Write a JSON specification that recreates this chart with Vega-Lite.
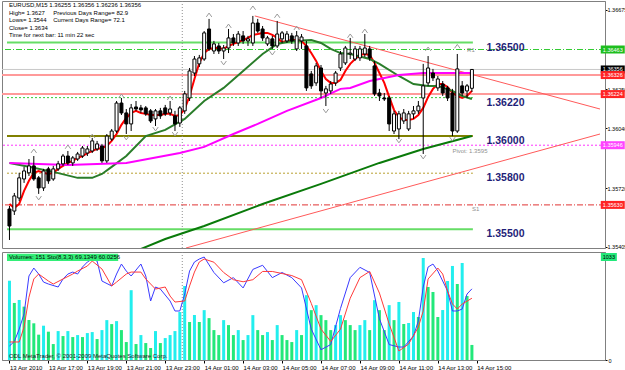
{
"$schema":"https://vega.github.io/schema/vega-lite/v6.json",
"background":"white",
"padding":0,
"spacing":0,
"config":{"view":{"stroke":"#808080","strokeWidth":1},"font":"Liberation Sans","axis":{"labelFont":"Liberation Sans","grid":false}},
"resolve":{"scale":{"x":"independent","y":"independent"}},
"datasets":{
"bars":[
{"t":"2010-04-13T15:00Z","o":1.35608,"h":1.35624,"l":1.35442,"c":1.35517,"v":795,"vd":"u"},
{"t":"2010-04-13T15:15Z","o":1.35597,"h":1.35694,"l":1.35576,"c":1.35678,"v":572,"vd":"d"},
{"t":"2010-04-13T15:30Z","o":1.35667,"h":1.35802,"l":1.35651,"c":1.35775,"v":602,"vd":"u"},
{"t":"2010-04-13T15:45Z","o":1.35769,"h":1.35834,"l":1.35748,"c":1.35812,"v":535,"vd":"d"},
{"t":"2010-04-13T16:00Z","o":1.35802,"h":1.35876,"l":1.35785,"c":1.35839,"v":401,"vd":"d"},
{"t":"2010-04-13T16:15Z","o":1.35839,"h":1.35892,"l":1.35759,"c":1.35769,"v":368,"vd":"d"},
{"t":"2010-04-13T16:30Z","o":1.35775,"h":1.35785,"l":1.35689,"c":1.35721,"v":254,"vd":"d"},
{"t":"2010-04-13T16:45Z","o":1.35721,"h":1.35823,"l":1.35705,"c":1.35812,"v":344,"vd":"u"},
{"t":"2010-04-13T17:00Z","o":1.35823,"h":1.35834,"l":1.35743,"c":1.35759,"v":284,"vd":"d"},
{"t":"2010-04-13T17:15Z","o":1.35769,"h":1.35839,"l":1.35759,"c":1.35823,"v":160,"vd":"d"},
{"t":"2010-04-13T17:30Z","o":1.35823,"h":1.35866,"l":1.35812,"c":1.3585,"v":290,"vd":"u"},
{"t":"2010-04-13T17:45Z","o":1.3585,"h":1.35903,"l":1.35839,"c":1.35892,"v":240,"vd":"d"},
{"t":"2010-04-13T18:00Z","o":1.35892,"h":1.35919,"l":1.35844,"c":1.35855,"v":290,"vd":"u"},
{"t":"2010-04-13T18:15Z","o":1.35855,"h":1.35892,"l":1.35839,"c":1.35882,"v":230,"vd":"d"},
{"t":"2010-04-13T18:30Z","o":1.35876,"h":1.35914,"l":1.35866,"c":1.35903,"v":250,"vd":"u"},
{"t":"2010-04-13T18:45Z","o":1.35892,"h":1.35946,"l":1.35882,"c":1.35935,"v":230,"vd":"d"},
{"t":"2010-04-13T19:00Z","o":1.35908,"h":1.35946,"l":1.35892,"c":1.3593,"v":270,"vd":"u"},
{"t":"2010-04-13T19:15Z","o":1.35919,"h":1.35989,"l":1.35908,"c":1.35973,"v":280,"vd":"u"},
{"t":"2010-04-13T19:30Z","o":1.3593,"h":1.35973,"l":1.35919,"c":1.35957,"v":210,"vd":"d"},
{"t":"2010-04-13T19:45Z","o":1.35946,"h":1.35957,"l":1.35855,"c":1.35866,"v":300,"vd":"u"},
{"t":"2010-04-13T20:00Z","o":1.35866,"h":1.3601,"l":1.35855,"c":1.35999,"v":400,"vd":"u"},
{"t":"2010-04-13T20:15Z","o":1.35983,"h":1.36037,"l":1.35973,"c":1.36026,"v":360,"vd":"d"},
{"t":"2010-04-13T20:30Z","o":1.36026,"h":1.36187,"l":1.36016,"c":1.36176,"v":390,"vd":"u"},
{"t":"2010-04-13T20:45Z","o":1.36176,"h":1.36203,"l":1.36112,"c":1.36123,"v":300,"vd":"d"},
{"t":"2010-04-13T21:00Z","o":1.36123,"h":1.36144,"l":1.3601,"c":1.36064,"v":180,"vd":"d"},
{"t":"2010-04-13T21:15Z","o":1.36064,"h":1.36171,"l":1.36026,"c":1.3615,"v":700,"vd":"u"},
{"t":"2010-04-13T21:30Z","o":1.36155,"h":1.36187,"l":1.36134,"c":1.36144,"v":160,"vd":"d"},
{"t":"2010-04-13T21:45Z","o":1.3615,"h":1.36166,"l":1.36123,"c":1.36139,"v":250,"vd":"u"},
{"t":"2010-04-13T22:00Z","o":1.3615,"h":1.3616,"l":1.36107,"c":1.36118,"v":170,"vd":"d"},
{"t":"2010-04-13T22:15Z","o":1.36134,"h":1.36144,"l":1.36069,"c":1.3608,"v":120,"vd":"d"},
{"t":"2010-04-13T22:30Z","o":1.36091,"h":1.36144,"l":1.36053,"c":1.36134,"v":290,"vd":"u"},
{"t":"2010-04-13T22:45Z","o":1.36134,"h":1.3615,"l":1.36091,"c":1.36107,"v":170,"vd":"d"},
{"t":"2010-04-13T23:00Z","o":1.3615,"h":1.36166,"l":1.36107,"c":1.36118,"v":220,"vd":"u"},
{"t":"2010-04-13T23:15Z","o":1.36123,"h":1.36187,"l":1.36107,"c":1.36144,"v":250,"vd":"u"},
{"t":"2010-04-13T23:30Z","o":1.36107,"h":1.36134,"l":1.36026,"c":1.36064,"v":290,"vd":"u"},
{"t":"2010-04-13T23:45Z","o":1.36069,"h":1.3616,"l":1.36048,"c":1.3615,"v":481,"vd":"u"},
{"t":"2010-04-14T00:00Z","o":1.36134,"h":1.36241,"l":1.36118,"c":1.36225,"v":742,"vd":"u"},
{"t":"2010-04-14T00:15Z","o":1.36203,"h":1.36364,"l":1.36187,"c":1.36348,"v":381,"vd":"d"},
{"t":"2010-04-14T00:30Z","o":1.36337,"h":1.36428,"l":1.36321,"c":1.36412,"v":451,"vd":"u"},
{"t":"2010-04-14T00:45Z","o":1.36386,"h":1.36434,"l":1.36369,"c":1.36418,"v":381,"vd":"d"},
{"t":"2010-04-14T01:00Z","o":1.36412,"h":1.36562,"l":1.36402,"c":1.36552,"v":500,"vd":"u"},
{"t":"2010-04-14T01:15Z","o":1.36573,"h":1.36627,"l":1.36455,"c":1.36466,"v":420,"vd":"d"},
{"t":"2010-04-14T01:30Z","o":1.36455,"h":1.36509,"l":1.36439,"c":1.36493,"v":300,"vd":"d"},
{"t":"2010-04-14T01:45Z","o":1.36482,"h":1.36498,"l":1.36439,"c":1.36455,"v":250,"vd":"d"},
{"t":"2010-04-14T02:00Z","o":1.36455,"h":1.36487,"l":1.36412,"c":1.36471,"v":400,"vd":"u"},
{"t":"2010-04-14T02:15Z","o":1.36471,"h":1.36573,"l":1.36444,"c":1.36525,"v":350,"vd":"d"},
{"t":"2010-04-14T02:30Z","o":1.36525,"h":1.36546,"l":1.36482,"c":1.36498,"v":250,"vd":"d"},
{"t":"2010-04-14T02:45Z","o":1.36498,"h":1.36562,"l":1.36482,"c":1.36546,"v":300,"vd":"u"},
{"t":"2010-04-14T03:00Z","o":1.36536,"h":1.36562,"l":1.36493,"c":1.36509,"v":200,"vd":"d"},
{"t":"2010-04-14T03:15Z","o":1.36509,"h":1.36536,"l":1.36482,"c":1.3652,"v":250,"vd":"u"},
{"t":"2010-04-14T03:30Z","o":1.36498,"h":1.36643,"l":1.36482,"c":1.36605,"v":450,"vd":"u"},
{"t":"2010-04-14T03:45Z","o":1.36605,"h":1.36627,"l":1.36552,"c":1.36562,"v":300,"vd":"d"},
{"t":"2010-04-14T04:00Z","o":1.36573,"h":1.36589,"l":1.36509,"c":1.36525,"v":250,"vd":"d"},
{"t":"2010-04-14T04:15Z","o":1.36493,"h":1.36536,"l":1.36482,"c":1.36525,"v":280,"vd":"u"},
{"t":"2010-04-14T04:30Z","o":1.3652,"h":1.36536,"l":1.36466,"c":1.36482,"v":200,"vd":"d"},
{"t":"2010-04-14T04:45Z","o":1.36482,"h":1.36616,"l":1.36471,"c":1.36546,"v":350,"vd":"u"},
{"t":"2010-04-14T05:00Z","o":1.3652,"h":1.36562,"l":1.36498,"c":1.36552,"v":250,"vd":"d"},
{"t":"2010-04-14T05:15Z","o":1.36509,"h":1.36562,"l":1.36498,"c":1.36546,"v":200,"vd":"d"},
{"t":"2010-04-14T05:30Z","o":1.36536,"h":1.36552,"l":1.36493,"c":1.36509,"v":180,"vd":"d"},
{"t":"2010-04-14T05:45Z","o":1.36466,"h":1.36562,"l":1.36455,"c":1.36536,"v":300,"vd":"u"},
{"t":"2010-04-14T06:00Z","o":1.36509,"h":1.36546,"l":1.36466,"c":1.3653,"v":250,"vd":"d"},
{"t":"2010-04-14T06:15Z","o":1.36482,"h":1.36509,"l":1.36241,"c":1.36257,"v":650,"vd":"u"},
{"t":"2010-04-14T06:30Z","o":1.36332,"h":1.36348,"l":1.36252,"c":1.36268,"v":500,"vd":"d"},
{"t":"2010-04-14T06:45Z","o":1.36284,"h":1.36391,"l":1.36268,"c":1.36375,"v":550,"vd":"u"},
{"t":"2010-04-14T07:00Z","o":1.36364,"h":1.3638,"l":1.36203,"c":1.36241,"v":450,"vd":"d"},
{"t":"2010-04-14T07:15Z","o":1.3623,"h":1.36268,"l":1.3616,"c":1.36252,"v":400,"vd":"d"},
{"t":"2010-04-14T07:30Z","o":1.36241,"h":1.36294,"l":1.36225,"c":1.36278,"v":300,"vd":"d"},
{"t":"2010-04-14T07:45Z","o":1.36284,"h":1.36348,"l":1.36268,"c":1.36337,"v":350,"vd":"u"},
{"t":"2010-04-14T08:00Z","o":1.36364,"h":1.36455,"l":1.36348,"c":1.36439,"v":450,"vd":"u"},
{"t":"2010-04-14T08:15Z","o":1.36391,"h":1.36482,"l":1.3638,"c":1.36471,"v":400,"vd":"d"},
{"t":"2010-04-14T08:30Z","o":1.36439,"h":1.36525,"l":1.36412,"c":1.36444,"v":350,"vd":"d"},
{"t":"2010-04-14T08:45Z","o":1.36412,"h":1.36482,"l":1.36402,"c":1.36466,"v":300,"vd":"d"},
{"t":"2010-04-14T09:00Z","o":1.36418,"h":1.36482,"l":1.36402,"c":1.36466,"v":350,"vd":"u"},
{"t":"2010-04-14T09:15Z","o":1.36439,"h":1.36546,"l":1.36423,"c":1.36471,"v":400,"vd":"u"},
{"t":"2010-04-14T09:30Z","o":1.36466,"h":1.36482,"l":1.36402,"c":1.36418,"v":300,"vd":"d"},
{"t":"2010-04-14T09:45Z","o":1.36375,"h":1.36402,"l":1.36214,"c":1.36225,"v":600,"vd":"u"},
{"t":"2010-04-14T10:00Z","o":1.3623,"h":1.36252,"l":1.36187,"c":1.36214,"v":500,"vd":"d"},
{"t":"2010-04-14T10:15Z","o":1.36203,"h":1.3623,"l":1.36187,"c":1.36198,"v":300,"vd":"d"},
{"t":"2010-04-14T10:30Z","o":1.36203,"h":1.36214,"l":1.36026,"c":1.36064,"v":550,"vd":"u"},
{"t":"2010-04-14T10:45Z","o":1.36026,"h":1.36134,"l":1.3601,"c":1.36118,"v":400,"vd":"d"},
{"t":"2010-04-14T11:00Z","o":1.36037,"h":1.36134,"l":1.35983,"c":1.36118,"v":582,"vd":"u"},
{"t":"2010-04-14T11:15Z","o":1.3608,"h":1.36144,"l":1.36064,"c":1.36123,"v":361,"vd":"d"},
{"t":"2010-04-14T11:30Z","o":1.36037,"h":1.36134,"l":1.36026,"c":1.36118,"v":371,"vd":"u"},
{"t":"2010-04-14T11:45Z","o":1.36118,"h":1.3616,"l":1.36091,"c":1.36134,"v":481,"vd":"u"},
{"t":"2010-04-14T12:00Z","o":1.36134,"h":1.36187,"l":1.36118,"c":1.3616,"v":431,"vd":"d"},
{"t":"2010-04-14T12:15Z","o":1.36203,"h":1.36386,"l":1.35903,"c":1.36268,"v":1023,"vd":"u"},
{"t":"2010-04-14T12:30Z","o":1.36284,"h":1.36428,"l":1.36268,"c":1.36364,"v":732,"vd":"d"},
{"t":"2010-04-14T12:45Z","o":1.36337,"h":1.36359,"l":1.36294,"c":1.36311,"v":682,"vd":"d"},
{"t":"2010-04-14T13:00Z","o":1.36257,"h":1.36321,"l":1.36241,"c":1.36305,"v":431,"vd":"d"},
{"t":"2010-04-14T13:15Z","o":1.36278,"h":1.36294,"l":1.36214,"c":1.3623,"v":501,"vd":"u"},
{"t":"2010-04-14T13:30Z","o":1.36257,"h":1.36268,"l":1.36187,"c":1.36203,"v":792,"vd":"u"},
{"t":"2010-04-14T13:45Z","o":1.3623,"h":1.36252,"l":1.35999,"c":1.36026,"v":943,"vd":"u"},
{"t":"2010-04-14T14:00Z","o":1.36026,"h":1.36439,"l":1.36016,"c":1.36359,"v":762,"vd":"d"},
{"t":"2010-04-14T14:15Z","o":1.36268,"h":1.36294,"l":1.36214,"c":1.3623,"v":973,"vd":"u"},
{"t":"2010-04-14T14:30Z","o":1.36241,"h":1.36278,"l":1.36203,"c":1.36268,"v":642,"vd":"d"},
{"t":"2010-04-14T14:45Z","o":1.36255,"h":1.36356,"l":1.36236,"c":1.36356,"v":151,"vd":"d"}
],
"ma":[
{"t":"2010-04-13T15:00Z","s":"fast","p":1.35635},{"t":"2010-04-13T15:15Z","s":"fast","p":1.35614},{"t":"2010-04-13T15:30Z","s":"fast","p":1.35635},{"t":"2010-04-13T15:45Z","s":"fast","p":1.35705},
{"t":"2010-04-13T16:00Z","s":"fast","p":1.35759},{"t":"2010-04-13T16:15Z","s":"fast","p":1.35802},{"t":"2010-04-13T16:30Z","s":"fast","p":1.35812},{"t":"2010-04-13T16:45Z","s":"fast","p":1.35802},
{"t":"2010-04-13T17:00Z","s":"fast","p":1.35796},{"t":"2010-04-13T17:15Z","s":"fast","p":1.35802},{"t":"2010-04-13T17:30Z","s":"fast","p":1.35823},{"t":"2010-04-13T17:45Z","s":"fast","p":1.35839},
{"t":"2010-04-13T18:00Z","s":"fast","p":1.35855},{"t":"2010-04-13T18:15Z","s":"fast","p":1.35866},{"t":"2010-04-13T18:30Z","s":"fast","p":1.35882},{"t":"2010-04-13T18:45Z","s":"fast","p":1.35892},
{"t":"2010-04-13T19:00Z","s":"fast","p":1.35908},{"t":"2010-04-13T19:15Z","s":"fast","p":1.35919},{"t":"2010-04-13T19:30Z","s":"fast","p":1.3593},{"t":"2010-04-13T19:45Z","s":"fast","p":1.35935},
{"t":"2010-04-13T20:00Z","s":"fast","p":1.35946},{"t":"2010-04-13T20:15Z","s":"fast","p":1.35973},{"t":"2010-04-13T20:30Z","s":"fast","p":1.3601},{"t":"2010-04-13T20:45Z","s":"fast","p":1.36059},
{"t":"2010-04-13T21:00Z","s":"fast","p":1.36096},{"t":"2010-04-13T21:15Z","s":"fast","p":1.36123},{"t":"2010-04-13T21:30Z","s":"fast","p":1.36134},{"t":"2010-04-13T21:45Z","s":"fast","p":1.36123},
{"t":"2010-04-13T22:00Z","s":"fast","p":1.36118},{"t":"2010-04-13T22:15Z","s":"fast","p":1.36112},{"t":"2010-04-13T22:30Z","s":"fast","p":1.36112},{"t":"2010-04-13T22:45Z","s":"fast","p":1.36112},
{"t":"2010-04-13T23:00Z","s":"fast","p":1.36118},{"t":"2010-04-13T23:15Z","s":"fast","p":1.36118},{"t":"2010-04-13T23:30Z","s":"fast","p":1.36107},{"t":"2010-04-13T23:45Z","s":"fast","p":1.36112},
{"t":"2010-04-14T00:00Z","s":"fast","p":1.36144},{"t":"2010-04-14T00:15Z","s":"fast","p":1.36214},{"t":"2010-04-14T00:30Z","s":"fast","p":1.36305},{"t":"2010-04-14T00:45Z","s":"fast","p":1.36391},
{"t":"2010-04-14T01:00Z","s":"fast","p":1.36444},{"t":"2010-04-14T01:15Z","s":"fast","p":1.36466},{"t":"2010-04-14T01:30Z","s":"fast","p":1.36471},{"t":"2010-04-14T01:45Z","s":"fast","p":1.36471},
{"t":"2010-04-14T02:00Z","s":"fast","p":1.36466},{"t":"2010-04-14T02:15Z","s":"fast","p":1.36482},{"t":"2010-04-14T02:30Z","s":"fast","p":1.36493},{"t":"2010-04-14T02:45Z","s":"fast","p":1.36503},
{"t":"2010-04-14T03:00Z","s":"fast","p":1.36514},{"t":"2010-04-14T03:15Z","s":"fast","p":1.36525},{"t":"2010-04-14T03:30Z","s":"fast","p":1.36541},{"t":"2010-04-14T03:45Z","s":"fast","p":1.36546},
{"t":"2010-04-14T04:00Z","s":"fast","p":1.36552},{"t":"2010-04-14T04:15Z","s":"fast","p":1.36552},{"t":"2010-04-14T04:30Z","s":"fast","p":1.36541},{"t":"2010-04-14T04:45Z","s":"fast","p":1.36525},
{"t":"2010-04-14T05:00Z","s":"fast","p":1.36503},{"t":"2010-04-14T05:15Z","s":"fast","p":1.36509},{"t":"2010-04-14T05:30Z","s":"fast","p":1.36514},{"t":"2010-04-14T05:45Z","s":"fast","p":1.36514},
{"t":"2010-04-14T06:00Z","s":"fast","p":1.36509},{"t":"2010-04-14T06:15Z","s":"fast","p":1.36482},{"t":"2010-04-14T06:30Z","s":"fast","p":1.36444},{"t":"2010-04-14T06:45Z","s":"fast","p":1.36402},
{"t":"2010-04-14T07:00Z","s":"fast","p":1.36348},{"t":"2010-04-14T07:15Z","s":"fast","p":1.36305},{"t":"2010-04-14T07:30Z","s":"fast","p":1.36284},{"t":"2010-04-14T07:45Z","s":"fast","p":1.36284},
{"t":"2010-04-14T08:00Z","s":"fast","p":1.363},{"t":"2010-04-14T08:15Z","s":"fast","p":1.36348},{"t":"2010-04-14T08:30Z","s":"fast","p":1.36386},{"t":"2010-04-14T08:45Z","s":"fast","p":1.36412},
{"t":"2010-04-14T09:00Z","s":"fast","p":1.36434},{"t":"2010-04-14T09:15Z","s":"fast","p":1.36439},{"t":"2010-04-14T09:30Z","s":"fast","p":1.36434},{"t":"2010-04-14T09:45Z","s":"fast","p":1.36391},
{"t":"2010-04-14T10:00Z","s":"fast","p":1.36337},{"t":"2010-04-14T10:15Z","s":"fast","p":1.36284},{"t":"2010-04-14T10:30Z","s":"fast","p":1.36209},{"t":"2010-04-14T10:45Z","s":"fast","p":1.36139},
{"t":"2010-04-14T11:00Z","s":"fast","p":1.36101},{"t":"2010-04-14T11:15Z","s":"fast","p":1.36085},{"t":"2010-04-14T11:30Z","s":"fast","p":1.36085},{"t":"2010-04-14T11:45Z","s":"fast","p":1.36091},
{"t":"2010-04-14T12:00Z","s":"fast","p":1.36112},{"t":"2010-04-14T12:15Z","s":"fast","p":1.3615},{"t":"2010-04-14T12:30Z","s":"fast","p":1.36209},{"t":"2010-04-14T12:45Z","s":"fast","p":1.36252},
{"t":"2010-04-14T13:00Z","s":"fast","p":1.36278},{"t":"2010-04-14T13:15Z","s":"fast","p":1.36278},{"t":"2010-04-14T13:30Z","s":"fast","p":1.36262},{"t":"2010-04-14T13:45Z","s":"fast","p":1.3623},
{"t":"2010-04-14T14:00Z","s":"fast","p":1.36214},{"t":"2010-04-14T14:15Z","s":"fast","p":1.36203},{"t":"2010-04-14T14:30Z","s":"fast","p":1.36214},{"t":"2010-04-14T14:45Z","s":"fast","p":1.36241},
{"t":"2010-04-13T15:00Z","s":"mid","p":1.35855},{"t":"2010-04-13T16:00Z","s":"mid","p":1.35834},{"t":"2010-04-13T17:15Z","s":"mid","p":1.35807},{"t":"2010-04-13T18:30Z","s":"mid","p":1.35775},
{"t":"2010-04-13T19:15Z","s":"mid","p":1.35775},{"t":"2010-04-13T19:45Z","s":"mid","p":1.35796},{"t":"2010-04-13T20:15Z","s":"mid","p":1.35834},{"t":"2010-04-13T21:00Z","s":"mid","p":1.35892},
{"t":"2010-04-13T22:00Z","s":"mid","p":1.35999},{"t":"2010-04-13T23:00Z","s":"mid","p":1.36032},{"t":"2010-04-14T00:00Z","s":"mid","p":1.36091},{"t":"2010-04-14T01:00Z","s":"mid","p":1.36187},
{"t":"2010-04-14T02:00Z","s":"mid","p":1.36257},{"t":"2010-04-14T03:00Z","s":"mid","p":1.36348},{"t":"2010-04-14T04:00Z","s":"mid","p":1.36439},{"t":"2010-04-14T04:45Z","s":"mid","p":1.36493},
{"t":"2010-04-14T05:30Z","s":"mid","p":1.36509},{"t":"2010-04-14T06:30Z","s":"mid","p":1.36514},{"t":"2010-04-14T07:00Z","s":"mid","p":1.36498},{"t":"2010-04-14T07:30Z","s":"mid","p":1.36466},
{"t":"2010-04-14T08:00Z","s":"mid","p":1.36444},{"t":"2010-04-14T08:30Z","s":"mid","p":1.36439},{"t":"2010-04-14T09:30Z","s":"mid","p":1.36412},{"t":"2010-04-14T10:00Z","s":"mid","p":1.36386},
{"t":"2010-04-14T11:00Z","s":"mid","p":1.36321},{"t":"2010-04-14T11:45Z","s":"mid","p":1.36278},{"t":"2010-04-14T12:30Z","s":"mid","p":1.36268},{"t":"2010-04-14T13:00Z","s":"mid","p":1.36268},
{"t":"2010-04-14T13:45Z","s":"mid","p":1.36241},{"t":"2010-04-14T14:15Z","s":"mid","p":1.36214},{"t":"2010-04-14T14:45Z","s":"mid","p":1.36198},
{"t":"2010-04-13T15:00Z","s":"slow","p":1.35855},{"t":"2010-04-13T18:00Z","s":"slow","p":1.35844},{"t":"2010-04-13T21:00Z","s":"slow","p":1.35855},{"t":"2010-04-13T23:45Z","s":"slow","p":1.35908},
{"t":"2010-04-14T01:00Z","s":"slow","p":1.35941},{"t":"2010-04-14T02:30Z","s":"slow","p":1.3601},{"t":"2010-04-14T03:45Z","s":"slow","p":1.36064},{"t":"2010-04-14T05:15Z","s":"slow","p":1.36134},
{"t":"2010-04-14T07:00Z","s":"slow","p":1.36203},{"t":"2010-04-14T08:00Z","s":"slow","p":1.36252},{"t":"2010-04-14T08:30Z","s":"slow","p":1.36257},{"t":"2010-04-14T09:30Z","s":"slow","p":1.36294},
{"t":"2010-04-14T11:00Z","s":"slow","p":1.36326},{"t":"2010-04-14T12:15Z","s":"slow","p":1.36337},{"t":"2010-04-14T14:45Z","s":"slow","p":1.36337},
{"t":"2010-04-13T21:30Z","s":"long","p":1.35383},{"t":"2010-04-13T23:00Z","s":"long","p":1.35447},{"t":"2010-04-14T01:00Z","s":"long","p":1.35517},{"t":"2010-04-14T04:00Z","s":"long","p":1.35635},
{"t":"2010-04-14T07:00Z","s":"long","p":1.35743},{"t":"2010-04-14T10:00Z","s":"long","p":1.35855},{"t":"2010-04-14T12:15Z","s":"long","p":1.3593},{"t":"2010-04-14T14:45Z","s":"long","p":1.35999}
],
"sto":[
{"t":"2010-04-13T15:00Z","s":"main","v":13.6},{"t":"2010-04-13T15:15Z","s":"main","v":18},{"t":"2010-04-13T15:30Z","s":"main","v":30},{"t":"2010-04-13T15:45Z","s":"main","v":44.7},
{"t":"2010-04-13T16:00Z","s":"main","v":81.6},{"t":"2010-04-13T16:15Z","s":"main","v":89.3},{"t":"2010-04-13T16:30Z","s":"main","v":83.5},{"t":"2010-04-13T16:45Z","s":"main","v":75.7},
{"t":"2010-04-13T17:00Z","s":"main","v":73.8},{"t":"2010-04-13T17:30Z","s":"main","v":70.9},{"t":"2010-04-13T17:45Z","s":"main","v":78.7},{"t":"2010-04-13T18:00Z","s":"main","v":83.5},
{"t":"2010-04-13T18:15Z","s":"main","v":85.4},{"t":"2010-04-13T18:30Z","s":"main","v":83.5},{"t":"2010-04-13T18:45Z","s":"main","v":90.3},{"t":"2010-04-13T19:00Z","s":"main","v":95.2},
{"t":"2010-04-13T19:15Z","s":"main","v":98.1},{"t":"2010-04-13T19:30Z","s":"main","v":96.1},{"t":"2010-04-13T19:45Z","s":"main","v":76.7},{"t":"2010-04-13T20:15Z","s":"main","v":71.9},
{"t":"2010-04-13T20:30Z","s":"main","v":83.5},{"t":"2010-04-13T20:45Z","s":"main","v":93.2},{"t":"2010-04-13T21:00Z","s":"main","v":86.4},{"t":"2010-04-13T21:15Z","s":"main","v":81.6},
{"t":"2010-04-13T21:45Z","s":"main","v":93.2},{"t":"2010-04-13T22:00Z","s":"main","v":81.6},{"t":"2010-04-13T22:15Z","s":"main","v":57.3},{"t":"2010-04-13T22:30Z","s":"main","v":70.9},
{"t":"2010-04-13T22:45Z","s":"main","v":68.9},{"t":"2010-04-13T23:15Z","s":"main","v":57.3},{"t":"2010-04-13T23:30Z","s":"main","v":47.6},{"t":"2010-04-13T23:45Z","s":"main","v":47.6},
{"t":"2010-04-14T00:00Z","s":"main","v":64.1},{"t":"2010-04-14T00:15Z","s":"main","v":86.4},{"t":"2010-04-14T00:30Z","s":"main","v":95.2},{"t":"2010-04-14T00:45Z","s":"main","v":98.1},
{"t":"2010-04-14T01:00Z","s":"main","v":100},{"t":"2010-04-14T01:30Z","s":"main","v":85},{"t":"2010-04-14T02:00Z","s":"main","v":75},{"t":"2010-04-14T02:30Z","s":"main","v":80},
{"t":"2010-04-14T03:00Z","s":"main","v":70},{"t":"2010-04-14T03:30Z","s":"main","v":88},{"t":"2010-04-14T04:00Z","s":"main","v":92},{"t":"2010-04-14T04:30Z","s":"main","v":80},
{"t":"2010-04-14T05:00Z","s":"main","v":85},{"t":"2010-04-14T05:30Z","s":"main","v":80},{"t":"2010-04-14T06:00Z","s":"main","v":70},{"t":"2010-04-14T06:30Z","s":"main","v":30},
{"t":"2010-04-14T07:00Z","s":"main","v":10},{"t":"2010-04-14T07:30Z","s":"main","v":15},{"t":"2010-04-14T08:00Z","s":"main","v":50},{"t":"2010-04-14T08:30Z","s":"main","v":80},
{"t":"2010-04-14T09:00Z","s":"main","v":90},{"t":"2010-04-14T09:30Z","s":"main","v":85},{"t":"2010-04-14T10:00Z","s":"main","v":40},{"t":"2010-04-14T10:30Z","s":"main","v":15},
{"t":"2010-04-14T11:00Z","s":"main","v":12.6},{"t":"2010-04-14T11:15Z","s":"main","v":12.6},{"t":"2010-04-14T11:45Z","s":"main","v":23.3},{"t":"2010-04-14T12:00Z","s":"main","v":37.9},
{"t":"2010-04-14T12:15Z","s":"main","v":70.9},{"t":"2010-04-14T12:30Z","s":"main","v":90.3},{"t":"2010-04-14T12:45Z","s":"main","v":93.2},{"t":"2010-04-14T13:00Z","s":"main","v":86.4},
{"t":"2010-04-14T13:15Z","s":"main","v":76.7},{"t":"2010-04-14T13:30Z","s":"main","v":67},{"t":"2010-04-14T13:45Z","s":"main","v":47.6},{"t":"2010-04-14T14:00Z","s":"main","v":47.6},
{"t":"2010-04-14T14:15Z","s":"main","v":49.5},{"t":"2010-04-14T14:30Z","s":"main","v":64.1},{"t":"2010-04-14T14:45Z","s":"main","v":69.1},
{"t":"2010-04-13T15:00Z","s":"signal","v":17.5},{"t":"2010-04-13T15:30Z","s":"signal","v":17.5},{"t":"2010-04-13T15:45Z","s":"signal","v":32},{"t":"2010-04-13T16:00Z","s":"signal","v":61},
{"t":"2010-04-13T16:15Z","s":"signal","v":78.7},{"t":"2010-04-13T16:30Z","s":"signal","v":83.5},{"t":"2010-04-13T17:00Z","s":"signal","v":76.7},{"t":"2010-04-13T17:15Z","s":"signal","v":73.8},
{"t":"2010-04-13T17:45Z","s":"signal","v":78.7},{"t":"2010-04-13T18:15Z","s":"signal","v":83.5},{"t":"2010-04-13T18:30Z","s":"signal","v":86.4},{"t":"2010-04-13T19:00Z","s":"signal","v":91.3},
{"t":"2010-04-13T19:15Z","s":"signal","v":96.1},{"t":"2010-04-13T19:45Z","s":"signal","v":88.4},{"t":"2010-04-13T20:15Z","s":"signal","v":71.9},{"t":"2010-04-13T20:30Z","s":"signal","v":75.7},
{"t":"2010-04-13T21:00Z","s":"signal","v":83.5},{"t":"2010-04-13T21:15Z","s":"signal","v":85.4},{"t":"2010-04-13T21:45Z","s":"signal","v":85.4},{"t":"2010-04-13T22:00Z","s":"signal","v":78.7},
{"t":"2010-04-13T22:30Z","s":"signal","v":68.9},{"t":"2010-04-13T23:00Z","s":"signal","v":70.9},{"t":"2010-04-13T23:15Z","s":"signal","v":62.1},{"t":"2010-04-13T23:30Z","s":"signal","v":56.3},
{"t":"2010-04-14T00:00Z","s":"signal","v":57.3},{"t":"2010-04-14T00:15Z","s":"signal","v":71.9},{"t":"2010-04-14T00:30Z","s":"signal","v":85.4},{"t":"2010-04-14T00:45Z","s":"signal","v":95.2},
{"t":"2010-04-14T01:00Z","s":"signal","v":98.1},{"t":"2010-04-14T01:30Z","s":"signal","v":95},{"t":"2010-04-14T02:00Z","s":"signal","v":85},{"t":"2010-04-14T02:30Z","s":"signal","v":78},
{"t":"2010-04-14T03:00Z","s":"signal","v":76},{"t":"2010-04-14T03:30Z","s":"signal","v":78},{"t":"2010-04-14T04:00Z","s":"signal","v":86},{"t":"2010-04-14T04:30Z","s":"signal","v":86},
{"t":"2010-04-14T05:00Z","s":"signal","v":84},{"t":"2010-04-14T05:30Z","s":"signal","v":82},{"t":"2010-04-14T06:00Z","s":"signal","v":78},{"t":"2010-04-14T06:30Z","s":"signal","v":55},
{"t":"2010-04-14T07:00Z","s":"signal","v":30},{"t":"2010-04-14T07:30Z","s":"signal","v":18},{"t":"2010-04-14T08:00Z","s":"signal","v":30},{"t":"2010-04-14T08:30Z","s":"signal","v":60},
{"t":"2010-04-14T09:00Z","s":"signal","v":80},{"t":"2010-04-14T09:30Z","s":"signal","v":86},{"t":"2010-04-14T10:00Z","s":"signal","v":65},{"t":"2010-04-14T10:30Z","s":"signal","v":35},
{"t":"2010-04-14T11:00Z","s":"signal","v":8.7},{"t":"2010-04-14T11:30Z","s":"signal","v":15.5},{"t":"2010-04-14T12:00Z","s":"signal","v":32},{"t":"2010-04-14T12:15Z","s":"signal","v":47.6},
{"t":"2010-04-14T12:30Z","s":"signal","v":78.7},{"t":"2010-04-14T13:00Z","s":"signal","v":89.3},{"t":"2010-04-14T13:15Z","s":"signal","v":83.5},{"t":"2010-04-14T13:30Z","s":"signal","v":67},
{"t":"2010-04-14T13:45Z","s":"signal","v":54.4},{"t":"2010-04-14T14:00Z","s":"signal","v":49.5},{"t":"2010-04-14T14:15Z","s":"signal","v":54.4},{"t":"2010-04-14T14:45Z","s":"signal","v":60.0}
],
"levels":[
{"lv":"gdd","p":1.36463},{"lv":"bid","p":1.36356},{"lv":"rl","p":1.36326},{"lv":"rl","p":1.36224},{"lv":"pivot","p":1.3595},{"lv":"s1","p":1.3563},
{"lv":"gsolid","p":1.365},{"lv":"gsolid","p":1.355},{"lv":"gdot","p":1.36205},{"lv":"olive","p":1.36},{"lv":"ydot","p":1.358}
],
"trend":[
{"t":"2010-04-14T03:36Z","p":1.36643,"t2":"2010-04-14T21:19:42Z","p2":1.36144},
{"t":"2010-04-14T00:04Z","p":1.35399,"t2":"2010-04-14T21:19:42Z","p2":1.3601}
],
"fractals":[
{"t":"2010-04-13T16:15Z","p":1.35919,"dir":"up"},{"t":"2010-04-13T18:00Z","p":1.35941,"dir":"up"},{"t":"2010-04-13T19:15Z","p":1.35999,"dir":"up"},
{"t":"2010-04-13T20:45Z","p":1.36214,"dir":"up"},{"t":"2010-04-13T23:15Z","p":1.36203,"dir":"up"},{"t":"2010-04-14T01:15Z","p":1.36648,"dir":"up"},
{"t":"2010-04-14T02:15Z","p":1.36589,"dir":"up"},{"t":"2010-04-14T03:30Z","p":1.36686,"dir":"up"},{"t":"2010-04-14T04:45Z","p":1.36643,"dir":"up"},
{"t":"2010-04-14T05:45Z","p":1.36578,"dir":"up"},{"t":"2010-04-14T08:30Z","p":1.36536,"dir":"up"},{"t":"2010-04-14T09:15Z","p":1.36562,"dir":"up"},
{"t":"2010-04-14T12:30Z","p":1.36466,"dir":"up"},{"t":"2010-04-14T14:00Z","p":1.3648,"dir":"up"},
{"t":"2010-04-13T16:30Z","p":1.35667,"dir":"dn"},{"t":"2010-04-13T21:00Z","p":1.35989,"dir":"dn"},{"t":"2010-04-13T22:30Z","p":1.36037,"dir":"dn"},
{"t":"2010-04-13T23:30Z","p":1.3601,"dir":"dn"},{"t":"2010-04-14T02:00Z","p":1.36391,"dir":"dn"},{"t":"2010-04-14T04:30Z","p":1.36444,"dir":"dn"},
{"t":"2010-04-14T07:15Z","p":1.36134,"dir":"dn"},{"t":"2010-04-14T11:00Z","p":1.35973,"dir":"dn"},{"t":"2010-04-14T12:15Z","p":1.35887,"dir":"dn"},
{"t":"2010-04-14T13:45Z","p":1.35983,"dir":"dn"}
],
"tags":[
{"p":1.36463,"lab":"1.36463","k":"g"},{"p":1.36356,"lab":"1.36356","k":"k"},{"p":1.36326,"lab":"1.36326","k":"r"},
{"p":1.36224,"lab":"1.36224","k":"r"},{"p":1.3595,"lab":"1.35946","k":"m"},{"p":1.3563,"lab":"1.35630","k":"r"}
],
"marks":[
{"p":1.365,"lab":"1.36500"},{"p":1.36205,"lab":"1.36220"},{"p":1.36,"lab":"1.36000"},{"p":1.358,"lab":"1.35800"},{"p":1.355,"lab":"1.35500"}
],
"notes":[
{"t":"2010-04-14T13:45Z","p":1.35919,"lab":"Pivot: 1.3595"},{"t":"2010-04-14T14:45Z","p":1.35608,"lab":"S1"},{"t":"2010-04-14T14:30Z","p":1.3646,"lab":"R1"}
]
},
"vconcat":[
{
"width":603,"height":247,
"layer":[
{"data":{"name":"levels"},"transform":[{"filter":"datum.lv=='bid'"}],"mark":{"type":"rule","color":"#c8c8c8","strokeWidth":1},
 "encoding":{"y":{"field":"p","type":"quantitative","title":null,"scale":{"domain":[1.35399,1.36723],"nice":false,"zero":false},
  "axis":{"orient":"right","title":null,"values":[1.36675,1.3657,1.3625,1.36145,1.3604,1.35825,1.3572,1.3551,1.35405],"format":".5f","labelFontSize":5.5,"tickSize":2,"tickColor":"#000000","labelColor":"#000000","domainColor":"#808080","labelPadding":0,"labelOverlap":false,"labelFlush":false,"labelBound":false,"grid":false}}}},
{"data":{"name":"levels"},"transform":[{"filter":"datum.lv=='rl'"}],"mark":{"type":"rule","color":"#ff9a9a","strokeWidth":2},"encoding":{"y":{"field":"p","type":"quantitative","title":null}}},
{"data":{"name":"levels"},"transform":[{"filter":"datum.lv=='gdd'"}],"mark":{"type":"rule","color":"#33cc33","strokeWidth":1,"strokeDash":[6,2,1,2]},"encoding":{"y":{"field":"p","type":"quantitative","title":null}}},
{"data":{"name":"levels"},"transform":[{"filter":"datum.lv=='pivot'"}],"mark":{"type":"rule","color":"#ff33ff","strokeWidth":1,"strokeDash":[2,2]},"encoding":{"y":{"field":"p","type":"quantitative","title":null}}},
{"data":{"name":"levels"},"transform":[{"filter":"datum.lv=='s1'"}],"mark":{"type":"rule","color":"#e03333","strokeWidth":1,"strokeDash":[6,2,1,2]},"encoding":{"y":{"field":"p","type":"quantitative","title":null}}},
{"data":{"name":"levels"},"transform":[{"filter":"datum.lv=='gsolid'"}],"mark":{"type":"rule","color":"#66dd66","strokeWidth":2},
 "encoding":{"x":{"datum":1271170344000,"type":"temporal","scale":{"type":"utc","domain":[1271170344000,1271279982000]},"axis":null},"x2":{"datum":1271256480000},"y":{"field":"p","type":"quantitative","title":null}}},
{"data":{"name":"levels"},"transform":[{"filter":"datum.lv=='gdot'"}],"mark":{"type":"rule","color":"#33cc33","strokeWidth":1,"strokeDash":[2,2]},
 "encoding":{"x":{"datum":1271170344000,"type":"temporal","scale":{"type":"utc","domain":[1271170344000,1271279982000]},"axis":null},"x2":{"datum":1271256480000},"y":{"field":"p","type":"quantitative","title":null}}},
{"data":{"name":"levels"},"transform":[{"filter":"datum.lv=='olive'"}],"mark":{"type":"rule","color":"#808000","strokeWidth":2},
 "encoding":{"x":{"datum":1271170344000,"type":"temporal","scale":{"type":"utc","domain":[1271170344000,1271279982000]},"axis":null},"x2":{"datum":1271256480000},"y":{"field":"p","type":"quantitative","title":null}}},
{"data":{"name":"levels"},"transform":[{"filter":"datum.lv=='ydot'"}],"mark":{"type":"rule","color":"#b8a030","strokeWidth":1,"strokeDash":[2,2]},
 "encoding":{"x":{"datum":1271170344000,"type":"temporal","scale":{"type":"utc","domain":[1271170344000,1271279982000]},"axis":null},"x2":{"datum":1271256480000},"y":{"field":"p","type":"quantitative","title":null}}},
{"data":{"name":"trend"},"mark":{"type":"rule","color":"#ff5a5a","strokeWidth":1,"clip":true},
 "encoding":{"x":{"field":"t","type":"temporal","scale":{"type":"utc","domain":[1271170344000,1271279982000]},"axis":null},"x2":{"field":"t2"},"y":{"field":"p","type":"quantitative","title":null},"y2":{"field":"p2"}}},
{"data":{"values":[{}]},"mark":{"type":"rule","color":"#909090","strokeWidth":1,"strokeDash":[1,2]},
 "encoding":{"x":{"datum":1271202750000,"type":"temporal","scale":{"type":"utc","domain":[1271170344000,1271279982000]},"axis":null}}},
{"data":{"name":"ma"},"mark":{"type":"line","strokeWidth":2,"clip":true},
 "encoding":{"x":{"field":"t","type":"temporal","scale":{"type":"utc","domain":[1271170344000,1271279982000]},"axis":null},"y":{"field":"p","type":"quantitative","title":null},
  "color":{"field":"s","type":"nominal","scale":{"domain":["slow","long","mid","fast"],"range":["#ff00ff","#0a7a0a","#2a7d2a","#ff0000"]},"legend":null}}},
{"data":{"name":"bars"},"mark":{"type":"rule","color":"#000000","strokeWidth":1},
 "encoding":{"x":{"field":"t","type":"temporal","scale":{"type":"utc","domain":[1271170344000,1271279982000]},"axis":null},"y":{"field":"l","type":"quantitative","title":null},"y2":{"field":"h"}}},
{"data":{"name":"bars"},"mark":{"type":"bar","width":3,"stroke":"#000000","strokeWidth":1},
 "encoding":{"x":{"field":"t","type":"temporal","scale":{"type":"utc","domain":[1271170344000,1271279982000]},"axis":null},"y":{"field":"o","type":"quantitative","title":null},"y2":{"field":"c"},
  "fill":{"condition":{"test":"datum.c >= datum.o","value":"#ffffff"},"value":"#000000"}}},
{"data":{"name":"fractals"},"mark":{"type":"point","filled":false,"stroke":"#9a9a9a","strokeWidth":1,"size":30,"opacity":1},
 "encoding":{"x":{"field":"t","type":"temporal","scale":{"type":"utc","domain":[1271170344000,1271279982000]},"axis":null},"y":{"field":"p","type":"quantitative","title":null},
  "shape":{"field":"dir","type":"nominal","scale":{"domain":["up","dn"],"range":["M-1,0.7L0,-0.7L1,0.7","M-1,-0.7L0,0.7L1,-0.7"]},"legend":null}}},
{"data":{"name":"marks"},"mark":{"type":"text","align":"left","baseline":"middle","dy":5,"font":"Liberation Sans","fontSize":10.5,"fontWeight":"bold","color":"#1e1e78"},
 "encoding":{"x":{"datum":1271259000000,"type":"temporal","scale":{"type":"utc","domain":[1271170344000,1271279982000]},"axis":null},"y":{"field":"p","type":"quantitative","title":null},"text":{"field":"lab"}}},
{"data":{"name":"notes"},"mark":{"type":"text","align":"left","baseline":"middle","font":"Liberation Sans","fontSize":6,"color":"#909090"},
 "encoding":{"x":{"field":"t","type":"temporal","scale":{"type":"utc","domain":[1271170344000,1271279982000]},"axis":null},"y":{"field":"p","type":"quantitative","title":null},"text":{"field":"lab"}}},
{"data":{"values":[{}]},"mark":{"type":"text","align":"left","baseline":"top","dx":2,"dy":1,"font":"Liberation Sans","fontSize":6,"lineHeight":7.6,"color":"#000000",
  "text":["EURUSD,M15  1.36255 1.36356 1.36236 1.36356","High= 1.3627","Lows= 1.3544","Close= 1.3634","Time for next bar: 11 min 22 sec"]},
 "encoding":{"x":{"datum":1271170344000,"type":"temporal","scale":{"type":"utc","domain":[1271170344000,1271279982000]},"axis":null},"y":{"datum":1.36723,"type":"quantitative","title":null}}},
{"data":{"values":[{}]},"mark":{"type":"text","align":"left","baseline":"top","dy":8.6,"font":"Liberation Sans","fontSize":6,"lineHeight":7.6,"color":"#000000",
  "text":["Previous Days Range= 82.9","Current Days Range= 72.1"]},
 "encoding":{"x":{"datum":1271178900000,"type":"temporal","scale":{"type":"utc","domain":[1271170344000,1271279982000]},"axis":null},"y":{"datum":1.36723,"type":"quantitative","title":null}}},
{"data":{"name":"tags"},"mark":{"type":"point","filled":true,"opacity":1,"size":576,"shape":"M-1,-0.333H1V0.333H-1Z","clip":false},
 "encoding":{"x":{"datum":1271282340000,"type":"temporal","scale":{"type":"utc","domain":[1271170344000,1271279982000]},"axis":null},"y":{"field":"p","type":"quantitative","title":null},
  "fill":{"field":"k","type":"nominal","scale":{"domain":["g","k","r","m"],"range":["#1ebe1e","#000000","#ff2424","#ff44ff"]},"legend":null}}},
{"data":{"name":"tags"},"mark":{"type":"text","align":"center","baseline":"middle","font":"Liberation Sans","fontSize":5.5,"color":"#ffffff","clip":false},
 "encoding":{"x":{"datum":1271282340000,"type":"temporal","scale":{"type":"utc","domain":[1271170344000,1271279982000]},"axis":null},"y":{"field":"p","type":"quantitative","title":null},"text":{"field":"lab"}}}
]
},
{
"width":603,"height":108,
"resolve":{"scale":{"y":"independent","color":"independent"}},
"layer":[
{"data":{"name":"bars"},"mark":{"type":"bar","width":3},
 "encoding":{"x":{"field":"t","type":"temporal","title":null,"scale":{"type":"utc","domain":[1271170344000,1271279982000]},
   "axis":{"orient":"bottom","title":null,"values":[1271170800000,1271178000000,1271185200000,1271192400000,1271199600000,1271206800000,1271214000000,1271221200000,1271228400000,1271235600000,1271242800000,1271250000000,1271257200000],
    "labelExpr":"datum.index == 0 ? '13 Apr 2010' : utcFormat(datum.value, '%d %b %H:%M')","labelAlign":"left","labelFontSize":6,"tickSize":3,"labelPadding":1,"domainColor":"#808080","tickColor":"#000000","labelColor":"#000000","labelOverlap":false,"labelFlush":false,"grid":false}},
  "y":{"field":"v","type":"quantitative","title":null,"scale":{"domain":[0,1083],"nice":false,"zero":true},
   "axis":{"orient":"right","title":null,"values":[0],"labelFontSize":5.5,"tickSize":2,"tickColor":"#000000","labelColor":"#000000","domainColor":"#808080","labelPadding":1,"grid":false}},
  "color":{"field":"vd","type":"nominal","scale":{"domain":["u","d"],"range":["#22eeee","#22e87a"]},"legend":null}}},
{"data":{"values":[{}]},"mark":{"type":"rule","color":"#909090","strokeWidth":1,"strokeDash":[1,2]},
 "encoding":{"x":{"datum":1271202750000,"type":"temporal","scale":{"type":"utc","domain":[1271170344000,1271279982000]}}}},
{"data":{"name":"sto"},"mark":{"type":"line","strokeWidth":1},
 "encoding":{"x":{"field":"t","type":"temporal","scale":{"type":"utc","domain":[1271170344000,1271279982000]}},
  "y":{"field":"v","type":"quantitative","title":null,"scale":{"domain":[0,104.9],"nice":false,"zero":true},"axis":null},
  "color":{"field":"s","type":"nominal","scale":{"domain":["main","signal"],"range":["#3a3aff","#ff3a3a"]},"legend":null}}},
{"data":{"values":[{}]},"mark":{"type":"rect","color":"#33ee77"},
 "encoding":{"x":{"datum":1271170344000,"type":"temporal","scale":{"type":"utc","domain":[1271170344000,1271279982000]}},"x2":{"datum":1271190900000},
  "y":{"datum":1065,"type":"quantitative","scale":{"domain":[0,1083],"nice":false,"zero":true},"axis":null},"y2":{"datum":993}}},
{"data":{"values":[{}]},"mark":{"type":"text","align":"left","baseline":"middle","dx":2,"font":"Liberation Sans","fontSize":6,"color":"#000000","text":"Volumes: 151  Sto(8,3,3) 69.1349 60.0256"},
 "encoding":{"x":{"datum":1271170344000,"type":"temporal","scale":{"type":"utc","domain":[1271170344000,1271279982000]}},
  "y":{"datum":1029,"type":"quantitative","scale":{"domain":[0,1083],"nice":false,"zero":true},"axis":null}}},
{"data":{"values":[{}]},"mark":{"type":"text","align":"left","baseline":"bottom","dx":2,"dy":-1,"font":"Liberation Sans","fontSize":6,"color":"#202020","text":"ODL MetaTrader, © 2001-2009 MetaQuotes Software Corp."},
 "encoding":{"x":{"datum":1271170344000,"type":"temporal","scale":{"type":"utc","domain":[1271170344000,1271279982000]}},
  "y":{"datum":0,"type":"quantitative","scale":{"domain":[0,1083],"nice":false,"zero":true},"axis":null}}},
{"data":{"values":[{}]},"mark":{"type":"point","filled":true,"opacity":1,"size":256,"shape":"M-1,-0.5H1V0.5H-1Z","color":"#22e87a","clip":false},
 "encoding":{"x":{"datum":1271281620000,"type":"temporal","scale":{"type":"utc","domain":[1271170344000,1271279982000]}},
  "y":{"datum":1033,"type":"quantitative","scale":{"domain":[0,1083],"nice":false,"zero":true},"axis":null}}},
{"data":{"values":[{}]},"mark":{"type":"text","align":"center","baseline":"middle","font":"Liberation Sans","fontSize":5.5,"color":"#000000","text":"1033","clip":false},
 "encoding":{"x":{"datum":1271281620000,"type":"temporal","scale":{"type":"utc","domain":[1271170344000,1271279982000]}},
  "y":{"datum":1033,"type":"quantitative","scale":{"domain":[0,1083],"nice":false,"zero":true},"axis":null}}}
]
}
]
}
